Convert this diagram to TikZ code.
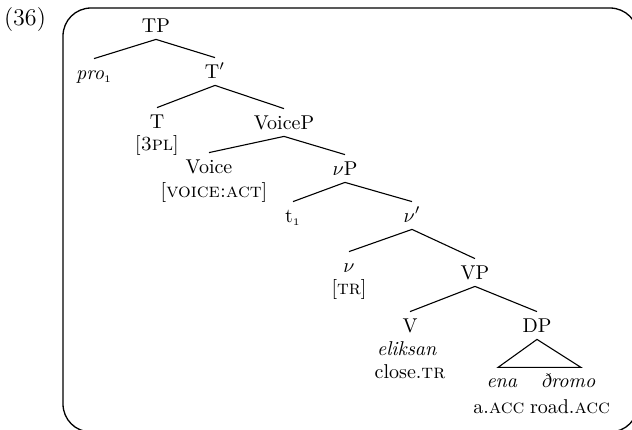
\documentclass[tikz,border=0pt]{standalone}
\usepackage{fontspec}
\usepackage{tikz}
\usetikzlibrary{positioning}

\begin{document}
\begin{tikzpicture}[on grid, font=\fontsize{10}{12}\selectfont,
    every node/.style={inner sep=0pt, text height=10pt, text depth=3.5pt},
    branch/.style={line width=.55pt}]
    \useasboundingbox (0,0) rectangle (316pt,-214.5pt);
    \draw[line width=.65pt, rounded corners=14pt] (31.5pt,-4pt) rectangle (319pt,-216pt);
    \node (ex) at (12.5pt,-9.5pt) {\fontsize{12}{14}\selectfont (36)};

    \node (TP) at (78pt,-12.75pt) {TP};
    \node (pro) [below left=23.5pt and 31pt of TP] {\textit{pro}$_{\scriptscriptstyle 1}$};
    \node (Tbar) [below right=23pt and 29.5pt of TP] {T$'$};
    \node (T) [below left=25pt and 29pt of Tbar] {T};
    \node (Tfeat) [below=11pt of T] {[\textsc{3pl}]};
    \node (VoiceP) [below right=25.5pt and 34.5pt of Tbar] {VoiceP};
    \node (Voice) [below left=22pt and 37.5pt of VoiceP] {Voice};
    \node (Voicefeat) [below right=12pt and 2.5pt of Voice] {[\textsc{voice:act}]};
    \node (vP) [below right=23pt and 30.5pt of VoiceP] {$\nu$P};
    \node (trace) [below left=23.5pt and 26pt of vP] {t$_{\scriptscriptstyle 1}$};
    \node (vbar) [below right=23.5pt and 33.5pt of vP] {$\nu'$};
    \node (v) [below left=25pt and 31.5pt of vbar] {$\nu$};
    \node (vfeat) [below=11pt of v] {[\textsc{tr}]};
    \node (VP) [below right=28.5pt and 31.5pt of vbar] {VP};
    \node (V) [below left=26.5pt and 32.5pt of VP] {V};
    \node (Vform) [below left=11.5pt and 1.5pt of V] {\textit{eliksan}};
    \node (Vgloss) [below right=11.5pt and 1.5pt of Vform] {close.\textsc{tr}};
    \node (DP) [below right=26.5pt and 31pt of VP] {DP};
    \node (Dform) [below left=27.5pt and 17.5pt of DP] {\textit{ena}};
    \node (Nform) [below right=27.5pt and 15.5pt of DP] {\textit{ðromo}};
    \node (Dgloss) [below left=13pt and 1.5pt of Dform] {a.\textsc{acc}};
    \node (Ngloss) [below right=13pt and 1pt of Nform] {road.\textsc{acc}};

    \draw[branch] (TP.south) -- (pro.north);
    \draw[branch] (TP.south) -- (Tbar.north);
    \draw[branch] (Tbar.south) -- (T.north);
    \draw[branch] (Tbar.south) -- (VoiceP.north);
    \draw[branch] (VoiceP.south) -- (Voice.north);
    \draw[branch] (VoiceP.south) -- (vP.north);
    \draw[branch] (vP.south) -- (trace.north);
    \draw[branch] (vP.south) -- (vbar.north);
    \draw[branch] (vbar.south) -- (v.north);
    \draw[branch] (vbar.south) -- (VP.north);
    \draw[branch] (VP.south) -- (V.north);
    \draw[branch] (VP.south) -- (DP.north);

    \coordinate [below left=14pt and 19.5pt of DP.south] (DPl);
    \coordinate [below right=14pt and 22pt of DP.south] (DPr);
    \draw[branch] (DP.south) -- (DPl) -- (DPr) -- cycle;
\end{tikzpicture}
\end{document}
